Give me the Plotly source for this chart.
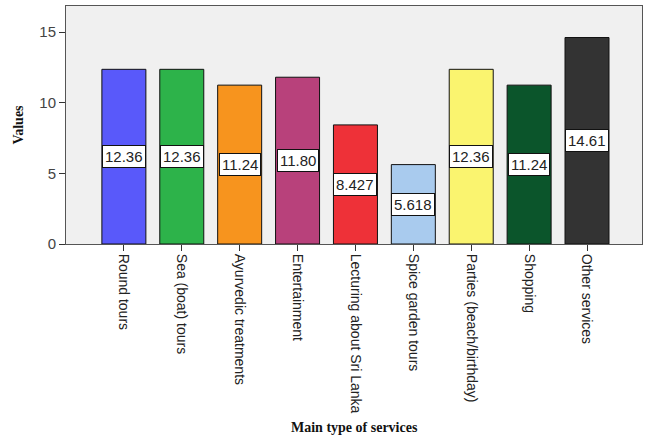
import plotly.graph_objects as go

categories = [
    "Round tours", "Sea (boat) tours", "Ayurvedic treatments", "Entertainment",
    "Lecturing about Sri Lanka", "Spice garden tours", "Parties (beach/birthday)",
    "Shopping", "Other services",
]
values = [12.36, 12.36, 11.24, 11.80, 8.427, 5.618, 12.36, 11.24, 14.61]
value_labels = ["12.36", "12.36", "11.24", "11.80", "8.427", "5.618", "12.36", "11.24", "14.61"]
colors = ["#5959FA", "#2DB34A", "#F7941E", "#B8417B", "#EE3138",
          "#A9CBEE", "#FAF46F", "#0B552B", "#333333"]

idx = list(range(len(categories)))

fig = go.Figure()
fig.add_trace(go.Bar(
    x=idx, y=values, width=0.76,
    marker=dict(color=colors, line=dict(color="#111111", width=1)),
    hoverinfo="skip",
))

# value boxes sit at the middle of each bar
for i, v, t in zip(idx, values, value_labels):
    fig.add_annotation(
        x=i, y=v / 2, text=t, showarrow=False,
        font=dict(family="Arial, Liberation Sans", size=15, color="#222222"),
        bgcolor="white", bordercolor="#111111", borderwidth=1, borderpad=2,
    )

# x-axis title placed below the rotated category labels
fig.add_annotation(
    xref="paper", yref="paper", x=0.5, y=-0.773, yanchor="middle",
    text="<b>Main type of services</b>", showarrow=False,
    font=dict(family="Liberation Serif, Times New Roman", size=14, color="#111111"),
)

fig.update_layout(
    width=645, height=438,
    margin=dict(l=66, r=3, t=6, b=194),
    paper_bgcolor="white", plot_bgcolor="#F0F0F0",
    showlegend=False,
    xaxis=dict(
        range=[-1.0, 8.95], tickmode="array", tickvals=idx, ticktext=categories,
        tickangle=90, ticks="outside", ticklen=6, tickcolor="#333333",
        tickfont=dict(family="Arial, Liberation Sans", size=14, color="#222222"),
        showgrid=False, zeroline=False, showline=True, linecolor="#555555",
        mirror=True, linewidth=1,
    ),
    yaxis=dict(
        range=[0, 16.84], tickvals=[0, 5, 10, 15], ticks="outside", ticklen=6,
        tickcolor="#333333",
        tickfont=dict(family="Arial, Liberation Sans", size=15, color="#444444"),
        showgrid=False, zeroline=False, showline=True, linecolor="#555555",
        mirror=True, linewidth=1,
        title=dict(text="<b>Values</b>", standoff=12,
                   font=dict(family="Liberation Serif, Times New Roman", size=14, color="#111111")),
    ),
)

fig.write_html("out.html")
